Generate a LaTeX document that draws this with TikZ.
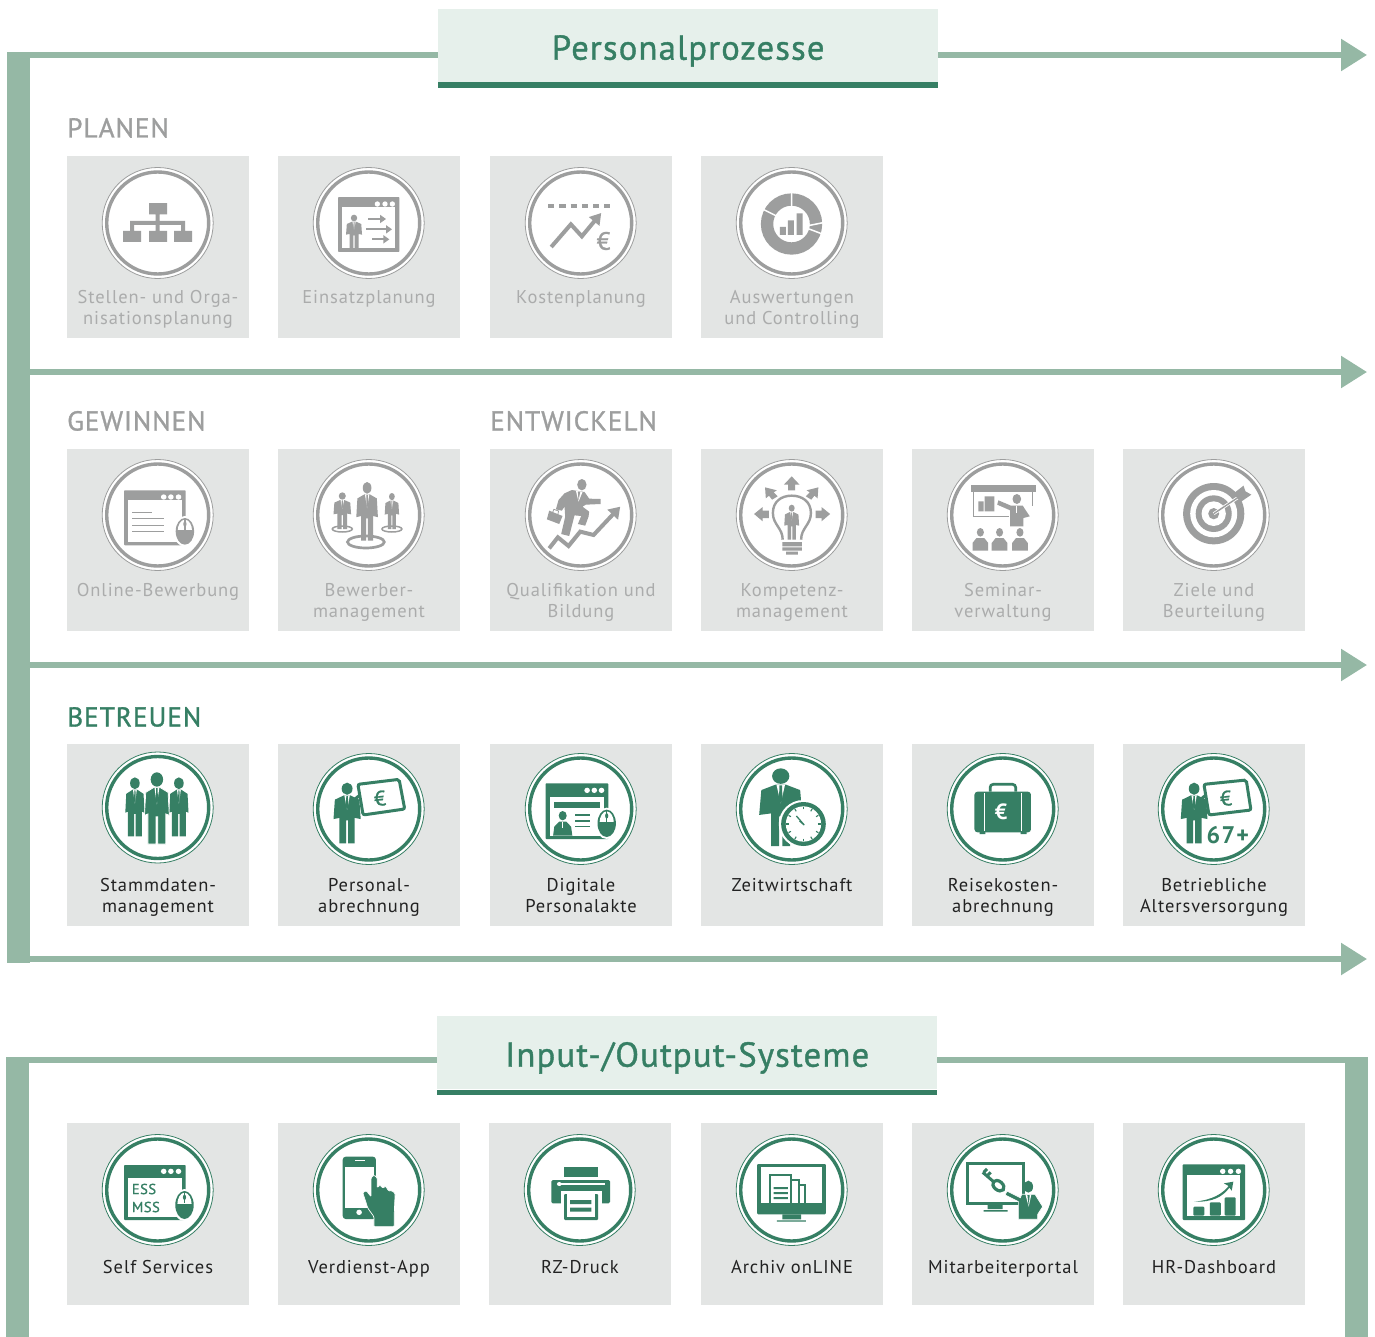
\documentclass[tikz,border=0pt]{standalone}
\usepackage{fontspec}
\usetikzlibrary{arrows.meta}
\newfontfamily\din[LetterSpace=5]{PT Sans}
\newfontfamily\dinh[LetterSpace=3.5,FakeBold=1.1]{PT Sans}
\definecolor{barc}{HTML}{95B8A5}
\definecolor{dgreen}{HTML}{367F64}
\definecolor{lgreen}{HTML}{E6F0EB}
\definecolor{cardc}{HTML}{E3E5E4}
\definecolor{gicon}{HTML}{9D9E9E}
\definecolor{gtext}{HTML}{ABACAC}
\definecolor{dtext}{HTML}{222222}
\def\headrx{.2}
\def\legw{.28}
\def\labeldy{131}
\tikzset{
  raw/.style 2 args={xscale=.3333,yscale=.3333,shift={(-#1,-#2)}},
  rawa/.style 2 args={xscale=.4,yscale=.3333,shift={(-#1,-#2)}},
  rawb/.style 2 args={xscale=.392,yscale=.3333,shift={(-#1,-#2)}},
  flowline/.style={barc,line width=5.6pt},
  flow/.style={barc,line width=5.6pt,-{Triangle[length=26pt,width=31pt]}},
  titlebox/.style={fill=lgreen,minimum width=500pt,minimum height=73pt,anchor=north west,inner sep=0pt,text=dgreen,font=\dinh\fontsize{34.6}{38}\selectfont},
  section/.style={anchor=base west,inner sep=0pt,font=\dinh\fontsize{27.3}{30}\selectfont},
  cardbox/.style={fill=cardc,minimum width=182pt,minimum height=182pt,anchor=north west,inner sep=0pt},
  ringouter/.style={circle,fill=white,draw=ic,line width=.8pt,minimum size=111pt,inner sep=0pt},
  ringinner/.style={circle,draw=ic,line width=3.4pt,minimum size=102pt,inner sep=0pt},
  cardlabel/.style={anchor=north,align=center,inner sep=0pt,font=\din\fontsize{18.5}{21}\selectfont},
  suitb/.style={fill=ic},
  halo/.style={fill=ic,draw=white,line width=.7pt},
}
\newcommand\suit[4]{\begin{scope}[shift={(#1,#2)},xscale=#3,yscale=#4]
  \fill[ic] (0,-.9) ellipse [x radius=\headrx,y radius=.1];
  \path[suitb] (-.12,-.79)--(-.45,-.72)--(-.5,-.40)--(-\legw,-.42)--(-\legw,0)--(-.04,0)--(-.04,-.38)--(.04,-.38)--(.04,0)--(\legw,0)--(\legw,-.42)--(.5,-.40)--(.45,-.72)--(.12,-.79)--cycle;
  \fill[white] (-.1,-.79)--(.1,-.79)--(0,-.55)--cycle;
  \fill[ic] (-.03,-.78)--(.03,-.78)--(.04,-.6)--(0,-.55)--(-.04,-.6)--cycle;
\end{scope}}
\newcommand\winicon[7]{%
  \fill[ic,rounded corners=.8pt] (#1,#2) rectangle (#3,#4);
  \fill[white] ({#1+#6},#5) rectangle ({#3-#6},{#4-#7});}
\newcommand\wdots[6]{\foreach \dx in {#1,#2,#3}{\fill[white] (\dx,#4) ellipse (#5 and #6);}}
\newcommand\mouseicon[4]{%
  \fill[white] (#1,#2) ellipse ({#3+6} and {#4+6});
  \fill[ic] (#1,#2) ellipse (#3 and #4);
  \begin{scope}\clip ({#1-#3},{#2-#4}) rectangle ({#1+#3},{#2-#4*.12});
  \fill[white] (#1,#2) ellipse ({#3-5} and {#4-5});\end{scope}
  \fill[ic] ({#1-1.5},{#2-#4}) rectangle ({#1+1.5},{#2-#4*.12});
  \fill[ic] ({#1},{#2-#4*.55}) ellipse (4 and 8);}
\newcommand\thinarrow[3]{\draw[ic,line width=2pt,-{Triangle[length=6pt,width=8pt]}] (#1,#3)--(#2,#3);}
\newcommand\icOrg{\begin{scope}[raw={473}{369}]
  \fill[ic] (447,309) rectangle (501,343) (369,393) rectangle (423,426) (447,393) rectangle (501,426) (522,393) rectangle (576,426)
  (467,343) rectangle (479,393) (390,363) rectangle (555,375) (390,363) rectangle (402,393) (543,363) rectangle (555,393);
\end{scope}}
\newcommand\icEinsatz{\begin{scope}[raw={1106}{369}]
  \winicon{1014}{291}{1198}{456}{322}{12}{12}
  \wdots{1132}{1155}{1177}{312}{8}{8}
  \suit{1062}{444}{48}{100}
  \thinarrow{1105}{1158}{357}\thinarrow{1098}{1176}{388}\thinarrow{1116}{1168}{418}
\end{scope}}
\newcommand\icKosten{\begin{scope}[raw={301.5}{218}]
  \draw[ic,line width=4pt,dash pattern=on 6.2pt off 5pt] (204,168)--(400,168);
  \draw[ic,line width=4pt,-{Triangle[length=11pt,width=13pt]}] (213,290)--(272,222)--(305,258)--(363,188);
  \node[text=ic,inner sep=0pt,font=\dinh\fontsize{25}{25}\selectfont] (keur) at (370,272) {€};
\end{scope}}
\newcommand\icAusw{\begin{scope}[raw={935.5}{218}]
  \draw[ic,line width=12.3pt] (935,221) circle (73.5);
  \draw[white,line width=1.5pt] (935,120)--(935,170) (852,178)--(888,196) (985,226)--(1035,216) (985,235)--(1030,252);
  \fill[ic] (900,230) rectangle (918,254) (924,210) rectangle (942,254) (950,189) rectangle (968,254);
\end{scope}}
\newcommand\icOnline{\begin{scope}[rawa={247}{196}]
  \winicon{163}{122}{317}{287}{152}{10}{10}
  \wdots{262}{280}{299}{142}{7}{8}
  \draw[ic,line width=1.5pt] (183,188)--(233,188) (183,207)--(263,207) (183,227)--(263,227) (183,246)--(263,246);
  \mouseicon{315}{245}{23}{40}
\end{scope}}
\newcommand\icBewerber{\begin{scope}[rawa={782}{196}]
  \draw[ic,line width=2.7pt] (775,277) ellipse (46 and 18);
  \draw[ic,line width=1.5pt] (716,238) ellipse (25 and 9) (840,238) ellipse (25 and 9);
  \suit{778}{273}{54}{176}\suit{716}{238}{44}{110}\suit{840}{238}{36}{108}
\end{scope}}
\newcommand\icQuali{\begin{scope}[raw={166.5}{165}]
  \draw[ic,line width=4pt,-{Triangle[length=11pt,width=14pt]}] (72,265)--(98,232)--(130,258)--(165,215)--(205,225)--(285,140);
  \fill[ic] (170,74) ellipse (14 and 17);
  \fill[ic] (140,90)--(178,96)--(192,116)--(226,117)--(226,132)--(182,134)--(172,140)--(192,155)--(190,170)--(180,197)--(158,192)--(168,168)--(148,166)--(132,228)--(108,222)--(120,170)--(118,140)--(110,152)--(92,148)--(100,120)--(118,100)--cycle;
  \fill[white] (152,92)--(172,96)--(160,125)--cycle;
  \fill[ic] (158,94)--(165,96)--(160,122)--cycle;
  \fill[ic] (72,152)--(112,168)--(102,192)--(65,178)--cycle;
  \draw[ic,line width=.8pt] (82,158)--(86,148)--(100,153)--(98,164);
\end{scope}}
\newcommand\icKomp{\begin{scope}[rawb={236}{196}]
  \draw[ic,line width=2.4pt] (213,270) .. controls (213,235) and (188,225) .. (188,190) .. controls (188,155) and (210,138) .. (236,138) .. controls (262,138) and (285,155) .. (285,190) .. controls (285,225) and (260,235) .. (260,270);
  \fill[ic] (212,277) rectangle (262,290) (212,293) rectangle (262,303) (222,306) rectangle (252,315);
  \suit{236}{270}{38}{105}
  \fill[ic] (236,80)--(256,105)--(245,105)--(245,122)--(227,122)--(227,105)--(216,105)--cycle;
  \fill[ic] (140,193)--(162,172)--(162,183)--(178,183)--(178,205)--(162,205)--(162,215)--cycle;
  \fill[ic] (334,193)--(312,172)--(312,183)--(297,183)--(297,205)--(312,205)--(312,215)--cycle;
  \fill[ic] (168,113)--(198,122)--(190,128)--(200,140)--(186,150)--(178,138)--(170,146)--cycle;
  \fill[ic] (304,113)--(274,122)--(282,128)--(272,140)--(286,150)--(294,138)--(302,146)--cycle;
\end{scope}}
\newcommand\audience[1]{\fill[ic] (#1,248) ellipse (9 and 13);
  \fill[ic] ({#1-20},303)--({#1-20},280)--({#1-10},265)--({#1+10},265)--({#1+20},280)--({#1+20},303)--cycle;}
\newcommand\icSeminar{\begin{scope}[rawb={779}{196}]
  \fill[ic] (697,105) rectangle (863,128);
  \draw[ic,line width=1.3pt] (705,128)--(705,200)--(795,200) (855,128)--(855,170);
  \fill[ic] (717,155) rectangle (730,185) (733,140) rectangle (758,185);
  \fill[ic] (815,148) ellipse (11 and 15);
  \fill[ic] (800,168)--(830,168)--(848,200)--(832,205)--(832,230)--(798,230)--(798,182)--(765,165)--(768,152)--cycle;
  \draw[white,line width=.7pt] (815,168)--(815,190);
  \audience{722}\audience{771}\audience{823}
\end{scope}}
\newcommand\icTarget{\begin{scope}[rawb={1322}{196}]
  \fill[ic] (1322,192) ellipse (78 and 92);
  \fill[white] (1322,192) ellipse (60 and 71);
  \fill[ic] (1322,192) ellipse (46 and 55);
  \fill[white] (1322,192) ellipse (31 and 37);
  \fill[ic] (1322,192) ellipse (14 and 17);
  \draw[white,line width=3pt] (1322,192)--(1395,135);
  \draw[ic,line width=1.4pt] (1322,192)--(1395,135);
  \fill[ic] (1372,132)--(1398,108)--(1403,125)--(1418,135)--(1393,155)--(1382,145)--cycle;
\end{scope}}
\newcommand\icStamm{\begin{scope}[rawa={247}{187.5}]
  \def\headrx{.25}\def\legw{.36}
  \suit{190}{274}{48}{177}\suit{300}{274}{48}{177}
  \begin{scope}[suitb/.style={halo}]\suit{245}{297}{62}{215}\end{scope}
\end{scope}}
\newcommand\icPersonal{\begin{scope}[rawa={782}{192}]
  \suit{728}{295}{68}{182}
  \draw[ic,line width=3pt] (745,165)--(760,150);
  \draw[ic,line width=3pt,fill=white,rounded corners=2pt] (755,118)--(858,103)--(872,192)--(768,210)--cycle;
  \node[text=ic,inner sep=0pt,rotate=6,font=\dinh\fontsize{21}{21}\selectfont] (peur) at (810,160) {€};
\end{scope}}
\newcommand\icDigital{\begin{scope}[rawa={1316}{192}]
  \winicon{1228}{115}{1385}{282}{155}{10}{8}
  \wdots{1332}{1350}{1368}{136}{7}{8}
  \fill[ic] (1250,170) rectangle (1365,188);
  \fill[ic] (1271,212) ellipse (10 and 14);
  \fill[ic] (1247,272)--(1250,245)--(1262,230)--(1280,230)--(1292,245)--(1295,272)--cycle;
  \draw[white,line width=.6pt] (1271,231)--(1271,250);
  \draw[ic,line width=1.5pt] (1302,210)--(1338,210) (1302,228)--(1338,228) (1302,245)--(1338,245);
  \mouseicon{1381}{235}{23}{41}
\end{scope}}
\newcommand\icZeit{\begin{scope}[rawb={236}{192}]
  \def\legw{.22}
  \suit{208}{303}{110}{233}
  \fill[white] (266,237) ellipse (63 and 72);
  \fill[ic] (266,237) ellipse (57 and 66);
  \fill[white] (266,237) ellipse (45 and 53);
  \foreach \a in {0,30,...,330}{\draw[ic,line width=1.1pt] ({266+37*cos(\a)},{237+44*sin(\a)})--({266+44*cos(\a)},{237+52*sin(\a)});}
  \draw[ic,line width=1.3pt] (268,240)--(248,213) (268,240)--(256,228);
\end{scope}}
\newcommand\icReise{\begin{scope}[rawb={779}{192}]
  \draw[ic,line width=2.7pt,rounded corners=3pt] (747,140)--(747,118)--(812,118)--(812,140);
  \fill[ic] (720,260) rectangle (735,267) (825,260) rectangle (840,267);
  \fill[ic,rounded corners=3pt] (707,140) rectangle (851,262);
  \draw[white,line width=.9pt] (733,145)--(733,258) (827,145)--(827,258);
  \node[text=white,inner sep=0pt,font=\din\bfseries\fontsize{22}{22}\selectfont] (reur) at (775,200) {€};
\end{scope}}
\newcommand\icAlter{\begin{scope}[rawb={1322}{192}]
  \suit{1272}{295}{68}{182}
  \draw[ic,line width=3pt] (1287,165)--(1302,150);
  \draw[ic,line width=3pt,fill=white,rounded corners=2pt] (1297,118)--(1405,105)--(1417,195)--(1310,210)--cycle;
  \node[text=ic,inner sep=0pt,rotate=6,font=\dinh\fontsize{21}{21}\selectfont] (aeur) at (1353,160) {€};
  \node[text=ic,inner sep=0pt,font=\din\bfseries\fontsize{24}{24}\selectfont] (a67) at (1358,270) {67+};
\end{scope}}
\newcommand\icESS{\begin{scope}[rawa={247}{195}]
  \winicon{163}{120}{317}{285}{158}{10}{9}
  \wdots{262}{280}{299}{139}{7}{8}
  \node[anchor=west,text=ic,inner sep=0pt,font=\dinh\fontsize{14.5}{14}\selectfont] (ess) at (182,192) {ESS};
  \node[anchor=west,text=ic,inner sep=0pt,font=\dinh\fontsize{14.5}{14}\selectfont] (mss) at (182,246) {MSS};
  \mouseicon{314}{240}{23}{42}
\end{scope}}
\newcommand\icApp{\begin{scope}[rawa={782}{195}]
  \fill[ic,rounded corners=3pt] (717,95) rectangle (800,282);
  \fill[white] (723,125) rectangle (795,250);
  \draw[white,line width=1pt] (748,107)--(772,107);
  \fill[white] (758,262) ellipse (7 and 8);
  \path[halo,rounded corners=1pt] (767,203)--(776,197)--(788,215)--(788,158)--(795,150)--(803,158)--(803,188)--(810,180)--(818,190)--(824,183)--(832,198)--(840,197)--(848,205)--(846,265)--(846,305)--(795,305)--(795,275)--(780,250)--cycle;
\end{scope}}
\newcommand\icDruck{\begin{scope}[rawa={1316}{195}]
  \fill[ic] (1277,126) rectangle (1362,156);
  \fill[ic,rounded corners=1.5pt] (1245,165) rectangle (1392,235);
  \fill[white] (1270,173) rectangle (1378,180);
  \fill[white] (1265,177) ellipse (6 and 6);
  \fill[white] (1268,197) rectangle (1371,240);
  \fill[ic,rounded corners=1pt] (1277,207) rectangle (1362,285);
  \fill[white] (1285,207) rectangle (1354,277);
  \fill[ic] (1292,225) rectangle (1345,237) (1292,248) rectangle (1345,260);
\end{scope}}
\newcommand\icArchiv{\begin{scope}[rawb={236}{195}]
  \fill[ic,rounded corners=1pt] (148,117) rectangle (323,268);
  \fill[white] (158,127) rectangle (313,235);
  \fill[ic] (212,268) rectangle (260,283) (198,286) rectangle (272,290);
  \draw[ic,line width=2pt] (181,235)--(181,151)--(235,151)--(235,235) (235,166)--(254,166)--(254,235) (254,180)--(270,180)--(270,235);
  \fill[ic] (190,186) rectangle (226,192) (190,201) rectangle (226,207) (190,216) rectangle (226,222);
\end{scope}}
\newcommand\icPortal{\begin{scope}[raw={165}{165}]
  \fill[ic] (55,80) rectangle (232,210);
  \fill[white] (63,90) rectangle (224,200);
  \fill[ic] (120,210) rectangle (165,222) (108,225) rectangle (180,230);
  \draw[ic,line width=3pt] (105,112)--(140,142) (108,112)--(118,102) (119,122)--(129,112);
  \draw[ic,line width=3.2pt,rotate around={-40:(152,152)}] (152,152) ellipse (19 and 13);
  \fill[ic] (242,155) ellipse (14 and 18);
  \path[halo] (222,178)--(262,178)--(285,215)--(270,238)--(270,253)--(212,253)--(212,200)--(172,180)--(178,168)--(218,188)--cycle;
  \fill[white] (233,178)--(251,178)--(243,215)--cycle;
  \fill[ic] (239,180)--(246,180)--(243,212)--cycle;
\end{scope}}
\newcommand\icDash{\begin{scope}[rawb={1322}{195}]
  \winicon{1243}{118}{1402}{285}{150}{12}{12}
  \wdots{1345}{1365}{1385}{139}{7}{8}
  \fill[ic,rounded corners=1pt] (1270,245) rectangle (1298,272) (1312,232) rectangle (1340,272) (1350,217) rectangle (1378,272);
  \fill[ic] (1272,230) .. controls (1320,225) and (1345,205) .. (1360,183) -- (1348,175) -- (1372,170) -- (1368,197) -- (1362,188) .. controls (1345,215) and (1320,232) .. (1272,230) -- cycle;
\end{scope}}
\newcommand\card[8]{\begin{scope}[shift={(#2,#3)}]\colorlet{ic}{#5}
  \node[cardbox] (#1) at (0,0) {};
  \node[ringouter] (#1o) at (90.7,#4) {};
  \node[ringinner] (#1i) at (90.7,#4) {};
  \begin{scope}[shift={(90.7,#4)}]#6\end{scope}
  \node[cardlabel,text=#7] (#1t) at (91,\labeldy) {\rule{0pt}{16pt}#8};
\end{scope}}
\begin{document}
\begin{tikzpicture}[x=1pt,y=-1pt]
\useasboundingbox (0,0) rectangle (1375,1337);
% frame upper
\fill[barc] (7,52) rectangle (30,963);
\node[titlebox] (t1) at (438,9) {\raisebox{-14pt}[0pt][0pt]{Personalprozesse}};
\fill[dgreen] (438,82) rectangle (938,88);
\coordinate (tl) at (7,55);
\coordinate (tr) at (1367,55);
\draw[flowline] (tl) -- (t1.west|-tl);
\draw[flow] (t1.east|-tr) -- (tr);
\coordinate (a1) at (30,372);\coordinate (b1) at (1367,372);
\coordinate (a2) at (30,665);\coordinate (b2) at (1367,665);
\coordinate (a3) at (30,959);\coordinate (b3) at (1367,959);
\draw[flow] (a1)--(b1);
\draw[flow] (a2)--(b2);
\draw[flow] (a3)--(b3);
% frame lower
\fill[barc] (6,1057) rectangle (29,1337);
\fill[barc] (1345,1057) rectangle (1368,1337);
\node[titlebox] (t2) at (437,1016) {\raisebox{-14pt}[0pt][0pt]{Input-/Output-Systeme}};
\fill[dgreen] (437,1090) rectangle (937,1095);
\coordinate (ll) at (29,1060);
\coordinate (lr) at (1345,1060);
\draw[flowline] (ll) -- (t2.west|-ll);
\draw[flowline] (t2.east|-lr) -- (lr);
% section heads
\node[section,text=gicon] (sp) at (67,137.5) {PLANEN};
\node[section,text=gicon] (sg) at (67,430.5) {GEWINNEN};
\node[section,text=gicon] (se) at (490,430.5) {ENTWICKELN};
\node[section,text=dgreen] (sb) at (67,726.5) {BETREUEN};
% planen
\card{c11}{67}{156}{67}{gicon}{\icOrg}{gtext}{Stellen- und Orga-\\nisationsplanung}
\card{c12}{278}{156}{67}{gicon}{\icEinsatz}{gtext}{Einsatzplanung}
\card{c13}{490}{156}{67}{gicon}{\icKosten}{gtext}{Kostenplanung}
\card{c14}{701}{156}{67}{gicon}{\icAusw}{gtext}{Auswertungen\\und Controlling}
% gewinnen / entwickeln
\card{c21}{67}{449}{66}{gicon}{\icOnline}{gtext}{Online-Bewerbung}
\card{c22}{278}{449}{66}{gicon}{\icBewerber}{gtext}{Bewerber-\\management}
\card{c23}{490}{449}{66}{gicon}{\icQuali}{gtext}{Qualifikation und\\Bildung}
\card{c24}{701}{449}{66}{gicon}{\icKomp}{gtext}{Kompetenz-\\management}
\card{c25}{912}{449}{66}{gicon}{\icSeminar}{gtext}{Seminar-\\verwaltung}
\card{c26}{1123}{449}{66}{gicon}{\icTarget}{gtext}{Ziele und\\Beurteilung}
% betreuen
\card{c31}{67}{744}{63.5}{dgreen}{\icStamm}{dtext}{Stammdaten-\\management}
\card{c32}{278}{744}{65}{dgreen}{\icPersonal}{dtext}{Personal-\\abrechnung}
\card{c33}{490}{744}{65}{dgreen}{\icDigital}{dtext}{Digitale\\Personalakte}
\card{c34}{701}{744}{65}{dgreen}{\icZeit}{dtext}{Zeitwirtschaft}
\card{c35}{912}{744}{65}{dgreen}{\icReise}{dtext}{Reisekosten-\\abrechnung}
\card{c36}{1123}{744}{65}{dgreen}{\icAlter}{dtext}{Betriebliche\\Altersversorgung}
% systeme
\def\labeldy{134}
\card{c41}{67}{1123}{67}{dgreen}{\icESS}{dtext}{Self Services}
\card{c42}{278}{1123}{67}{dgreen}{\icApp}{dtext}{Verdienst-App}
\card{c43}{489}{1123}{67}{dgreen}{\icDruck}{dtext}{RZ-Druck}
\card{c44}{701}{1123}{67}{dgreen}{\icArchiv}{dtext}{Archiv onLINE}
\card{c45}{912}{1123}{67}{dgreen}{\icPortal}{dtext}{Mitarbeiterportal}
\card{c46}{1123}{1123}{67}{dgreen}{\icDash}{dtext}{HR-Dashboard}
\end{tikzpicture}
\end{document}
